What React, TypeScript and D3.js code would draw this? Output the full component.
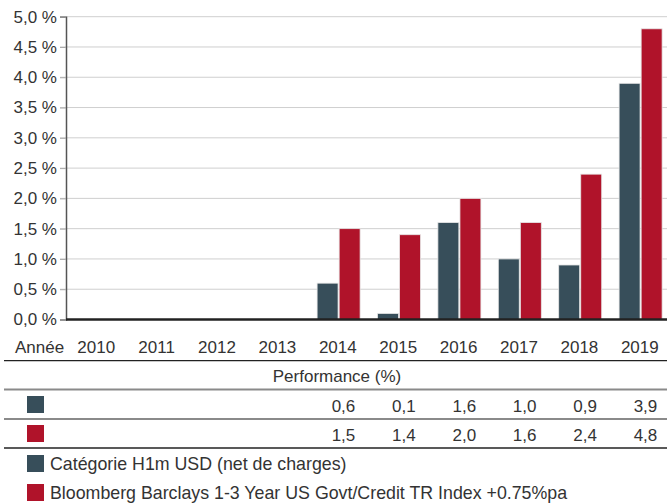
import React, { useEffect, useRef } from "react";
import * as d3 from "d3";

const years = ["2010", "2011", "2012", "2013", "2014", "2015", "2016", "2017", "2018", "2019"];
const fundValues: (number | null)[] = [null, null, null, null, 0.6, 0.1, 1.6, 1.0, 0.9, 3.9];
const indexValues: (number | null)[] = [null, null, null, null, 1.5, 1.4, 2.0, 1.6, 2.4, 4.8];
const yTicks = [0, 0.5, 1, 1.5, 2, 2.5, 3, 3.5, 4, 4.5, 5];
const seriesNames = ["Catégorie H1m USD (net de charges)", "Bloomberg Barclays 1-3 Year US Govt/Credit TR Index +0.75%pa"];
const colors = ["#374e5a", "#b0132a"];

const fmt = (v: number) => v.toFixed(1).replace(".", ",");

export default function App() {
  const svgRef = useRef<SVGSVGElement>(null);

  useEffect(() => {
    const w = 667;
    const h = 503;
    const svg = d3.select(svgRef.current).attr("width", w).attr("height", h);
    svg.selectAll("*").remove();
    const font = "'Liberation Sans', Arial, sans-serif";
    svg.style("font-family", font);

    const x = d3.scaleBand().domain(years).range([66, 670]);
    const inner = d3.scaleBand().domain(["0", "1"]).range([9.5, 52.5]).paddingInner(0.05);
    const y = d3.scaleLinear().domain([0, 5]).range([319.5, 16.7]);

    // grid
    svg.append("g")
      .selectAll("line")
      .data(yTicks.slice(1))
      .join("line")
      .attr("x1", 60).attr("x2", w)
      .attr("y1", d => y(d)).attr("y2", d => y(d))
      .attr("stroke", "#cfcfcf").attr("stroke-width", 1);

    const yAxis = d3.axisLeft(y).tickValues(yTicks).tickSize(6).tickPadding(3)
      .tickFormat(d => fmt(d as number) + " %");
    const ga = svg.append("g").attr("transform", "translate(66,0)").call(yAxis);
    ga.select(".domain").attr("stroke", "#555").attr("stroke-width", 1.5);
    ga.selectAll(".tick line").attr("stroke", "#aaa");
    ga.selectAll(".tick text").attr("font-size", 17).attr("fill", "#333").attr("font-family", font);

    // bars
    const series = [fundValues, indexValues];
    series.forEach((vals, si) => {
      svg.append("g")
        .selectAll("rect")
        .data(years.map((yr, i) => ({ yr, v: vals[i] })).filter(d => d.v !== null))
        .join("rect")
        .attr("x", d => (x(d.yr) as number) + (inner(String(si)) as number))
        .attr("width", inner.bandwidth())
        .attr("y", d => y(d.v as number))
        .attr("height", d => y(0) - y(d.v as number))
        .attr("fill", colors[si])
        .attr("stroke", "#e6e6e6").attr("stroke-width", 0.8);
    });

    // baseline
    svg.append("line").attr("x1", 66).attr("x2", w).attr("y1", y(0)).attr("y2", y(0))
      .attr("stroke", "#222").attr("stroke-width", 2.5);

    // table
    const t = svg.append("g").attr("font-size", 17).attr("fill", "#333");
    t.append("text").attr("x", 15).attr("y", 353).text("Année");
    t.selectAll(".yr").data(years).join("text").attr("class", "yr")
      .attr("x", d => (x(d) as number) + x.bandwidth() / 2).attr("y", 353)
      .attr("text-anchor", "middle").text(d => d);
    t.append("text").attr("x", 337).attr("y", 382).attr("text-anchor", "middle").text("Performance (%)");

    const rowBase = [412, 441];
    series.forEach((vals, si) => {
      t.append("rect").attr("x", 27).attr("y", rowBase[si] - 16).attr("width", 17).attr("height", 17)
        .attr("fill", colors[si]);
      t.append("g").selectAll("text")
        .data(years.map((yr, i) => ({ yr, v: vals[i] })).filter(d => d.v !== null))
        .join("text")
        .attr("x", d => (x(d.yr) as number) + x.bandwidth() / 2 + 17.5)
        .attr("y", rowBase[si])
        .attr("text-anchor", "end")
        .text(d => fmt(d.v as number));
    });

    const lines = [
      { y: 360.7, c: "#222", sw: 1.3 },
      { y: 389.5, c: "#8a8a8a", sw: 2 },
      { y: 419, c: "#8a8a8a", sw: 2 },
      { y: 448, c: "#222", sw: 1.3 },
    ];
    svg.append("g").selectAll("line").data(lines).join("line")
      .attr("x1", 4).attr("x2", w).attr("y1", d => d.y).attr("y2", d => d.y)
      .attr("stroke", d => d.c).attr("stroke-width", d => d.sw);

    // legend
    const legBase = [470, 499];
    seriesNames.forEach((name, si) => {
      t.append("rect").attr("x", 27).attr("y", legBase[si] - 15).attr("width", 17).attr("height", 17)
        .attr("fill", colors[si]);
      t.append("text").attr("x", 50).attr("y", legBase[si]).attr("font-size", 17.8).text(name);
    });
  }, []);

  return (
    <div style={{ position: "absolute", left: 0, top: 0 }}>
      <svg ref={svgRef} style={{ display: "block" }}></svg>
    </div>
  );
}
